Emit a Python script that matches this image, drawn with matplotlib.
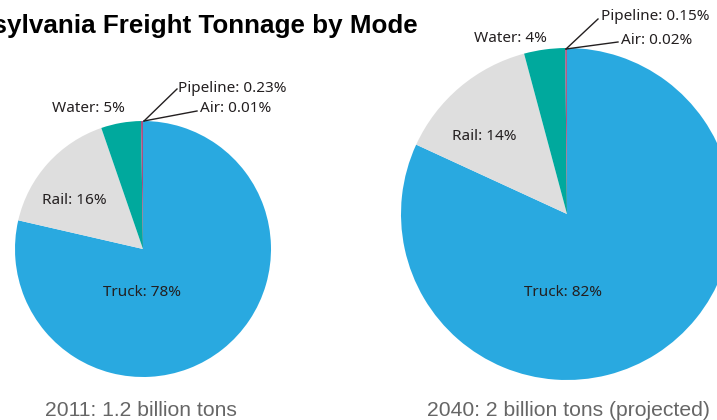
import matplotlib.pyplot as plt

modes = ['Truck', 'Rail', 'Water', 'Pipeline', 'Air']
share_2011 = [78, 16, 5, 0.23, 0.01]
share_2040 = [82, 14, 4, 0.15, 0.02]
colors = ['#29a9e0', '#dedede', '#00a99d', '#a3457f', '#d9272e']

title = 'Pennsylvania Freight Tonnage by Mode'
caption_2011 = '2011: 1.2 billion tons'
caption_2040 = '2040: 2 billion tons (projected)'

W, H = 717, 420
fig = plt.figure(figsize=(W / 100, H / 100), dpi=100)
ax = fig.add_axes([0, 0, 1, 1])


def P(x, y):
    # pixel coords (y down) -> data coords (y up)
    return x, H - y


lab = dict(family=['Noto Sans', 'DejaVu Sans'], fontsize=11, color='#231f20')

# 2011 pie
ax.pie(share_2011, colors=colors, startangle=90, counterclock=False,
       center=P(143, 249), radius=128, wedgeprops=dict(linewidth=0))
ax.text(*P(142, 293), 'Truck: 78%', ha='center', va='center', **lab)
ax.text(*P(74, 200), 'Rail: 16%', ha='center', va='center', **lab)
ax.text(*P(88, 109), 'Water: 5%', ha='center', va='center', **lab)
ax.text(*P(178, 88), 'Pipeline: 0.23%', ha='left', va='center', **lab)
ax.text(*P(200, 109), 'Air: 0.01%', ha='left', va='center', **lab)
ax.plot(*zip(P(144, 121), P(177, 89)), color='#231f20', lw=1)
ax.plot(*zip(P(144, 121), P(197, 111)), color='#231f20', lw=1)

# 2040 pie
ax.pie(share_2040, colors=colors, startangle=90, counterclock=False,
       center=P(567, 214), radius=166, wedgeprops=dict(linewidth=0))
ax.text(*P(563, 293), 'Truck: 82%', ha='center', va='center', **lab)
ax.text(*P(484, 137), 'Rail: 14%', ha='center', va='center', **lab)
ax.text(*P(510, 39), 'Water: 4%', ha='center', va='center', **lab)
ax.text(*P(601, 17), 'Pipeline: 0.15%', ha='left', va='center', **lab)
ax.text(*P(621, 41), 'Air: 0.02%', ha='left', va='center', **lab)
ax.plot(*zip(P(566, 49), P(598, 19)), color='#231f20', lw=1)
ax.plot(*zip(P(566, 49), P(618, 42)), color='#231f20', lw=1)

# title (cut off at the left edge as in the source) and captions
ax.text(*P(418, 33), title, ha='right', va='baseline', fontsize=18.7,
        fontweight='bold', family='Liberation Sans', color='black')
cap = dict(family='Liberation Sans', fontsize=15.2, color='#666666',
           ha='center', va='baseline')
ax.text(*P(141, 416), caption_2011, **cap)
ax.text(*P(568, 416), caption_2040, **cap)

ax.set_xlim(0, W)
ax.set_ylim(0, H)
ax.set_aspect('equal')
ax.axis('off')

fig.savefig('out.png', dpi=100)
